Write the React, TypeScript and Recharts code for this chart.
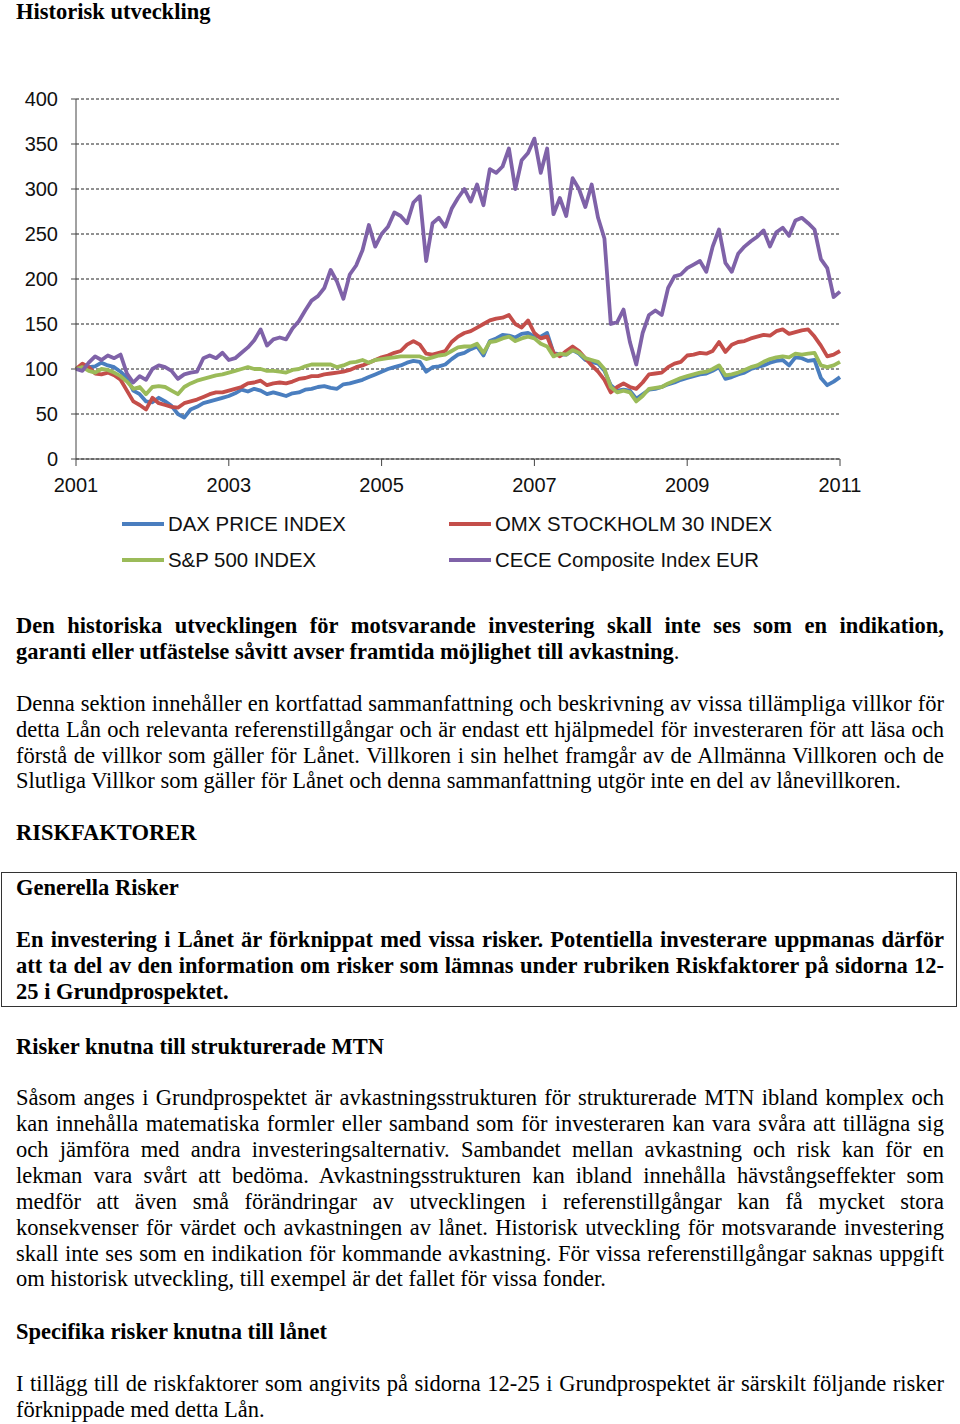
import React from "react";
import { LineChart, Line, XAxis, YAxis, CartesianGrid } from "recharts";

// monthly closes, indexed to 100 at Jan 2001
const DAX = [
  100, 102, 102, 103, 107, 104, 102, 97, 90, 76, 72, 64,
  63, 68, 64, 59, 50, 46, 55, 58, 62, 64, 66, 68,
  70, 73, 77, 75, 78, 76, 72, 74, 72, 70, 73, 74,
  77, 78, 80, 81, 79, 78, 83, 84, 86, 88, 91, 94,
  97, 100, 102, 104, 107, 109, 108, 97, 102, 103, 105, 111,
  116, 118, 122, 125, 115, 131, 134, 138, 137, 135, 139, 140,
  136, 136, 140, 118, 116, 116, 121, 117, 110, 108, 106, 98,
  82, 76, 77, 76, 67, 72, 77, 78, 80, 83, 85, 88,
  90, 92, 94, 95, 98, 102, 89, 91, 94, 96, 100, 102,
  104, 107, 109, 110, 104, 113, 112, 109, 110, 90, 82, 86,
  91,
];
const OMX = [
  100, 106, 102, 95, 94, 96, 93, 88, 76, 64, 60, 55,
  68, 62, 60, 58, 57, 62, 64, 66, 69, 72, 74, 74,
  76, 78, 80, 84, 85, 87, 82, 84, 85, 84, 86, 89,
  90, 92, 92, 94, 95, 96, 97, 99, 102, 104, 107, 110,
  113, 115, 118, 120, 127, 131, 127, 117, 116, 118, 120, 130,
  136, 140, 142, 146, 150, 154, 156, 157, 160, 150, 146, 154,
  140, 134, 136, 118, 114, 120, 125, 120, 112, 104, 97, 88,
  74, 80, 84, 80, 78, 85, 94, 95, 96, 102, 106, 108,
  115, 116, 118, 117, 120, 130, 119, 127, 130, 131, 134, 136,
  138, 137, 142, 144, 139, 141, 143, 144, 136, 126, 114, 116,
  120,
];
const SP500 = [
  100, 102, 98, 96, 100, 99, 96, 92, 86, 78, 80, 72,
  80, 81, 80, 76, 72, 80, 84, 87, 89, 91, 93, 94,
  96, 98, 100, 102, 100, 100, 98, 98, 97, 96, 99, 100,
  103, 105, 105, 105, 105, 102, 104, 107, 108, 110, 107, 110,
  111, 112, 113, 114, 114, 114, 114, 111, 113, 115, 116, 120,
  124, 125, 125, 128, 118, 130, 131, 134, 136, 131, 134, 136,
  134, 128, 125, 114, 117, 116, 121, 118, 112, 110, 108, 100,
  80, 74, 76, 74, 64, 70, 78, 79, 80, 84, 87, 90,
  92, 94, 96, 97, 100, 104, 93, 94, 96, 99, 102, 104,
  108, 111, 113, 114, 113, 117, 116, 117, 118, 104, 102, 104,
  108,
];
const CECE = [
  100, 98, 107, 114, 110, 115, 112, 116, 95, 85, 92, 88,
  100, 104, 102, 98, 89, 94, 96, 97, 112, 115, 112, 118,
  110, 112, 118, 124, 132, 144, 126, 133, 135, 133, 145, 153,
  165, 176, 181, 190, 210, 197, 178, 205, 215, 232, 260, 236,
  250, 258, 274, 270, 262, 285, 292, 220, 262, 268, 258, 278,
  290, 300, 286, 305, 282, 322, 318, 325, 345, 300, 332, 340,
  356, 318, 345, 272, 290, 270, 312, 300, 280, 305, 268, 245,
  150, 152, 166, 130, 105, 140, 160, 165, 160, 190, 203, 205,
  212, 216, 220, 208, 236, 255, 218, 208, 228, 236, 242, 247,
  254, 236, 252, 257, 248, 265, 268, 262, 255, 222, 212, 180,
  186,
];

const YEAR_TICKS = [0, 24, 48, 72, 96, 120];
const VALUE_TICKS = [0, 50, 100, 150, 200, 250, 300, 350, 400];

const SERIES = [
  { key: "dax", name: "DAX PRICE INDEX", color: "#4a7ebf" },
  { key: "omx", name: "OMX STOCKHOLM 30 INDEX", color: "#c44e4a" },
  { key: "sp", name: "S&P 500 INDEX", color: "#9bbb59" },
  { key: "cece", name: "CECE Composite Index EUR", color: "#7f62a8" },
];

const data = DAX.map((v, i) => ({ t: i, dax: v, omx: OMX[i], sp: SP500[i], cece: CECE[i] }));

const serif = "'Times New Roman', 'Liberation Serif', serif";
const sans = "Arial, 'Liberation Sans', sans-serif";
const FS = 22.5;

function TextLine({ y, children, justify = false, bold = false }: { y: number; children: React.ReactNode; justify?: boolean; bold?: boolean }) {
  return (
    <div
      style={{
        position: "absolute",
        left: 16,
        top: y - 13,
        width: 928,
        height: 26,
        lineHeight: "26px",
        fontSize: FS,
        fontFamily: serif,
        fontWeight: bold ? 700 : 400,
        color: "#000",
        textAlign: justify ? "justify" : "left",
        textAlignLast: justify ? "justify" : "left",
        whiteSpace: "nowrap",
      }}
    >
      {children}
    </div>
  );
}

function LegendItem({ x, y, name, color }: { x: number; y: number; name: string; color: string }) {
  return (
    <div style={{ position: "absolute", left: x, top: y - 12, height: 24, display: "flex", alignItems: "center" }}>
      <div style={{ width: 42, height: 4, background: color, marginRight: 4 }} />
      <span style={{ fontFamily: sans, fontSize: 20.4, color: "#111", lineHeight: "24px" }}>{name}</span>
    </div>
  );
}

export default function App() {
  return (
    <div style={{ position: "absolute", left: 0, top: 0, width: 960, height: 1424, background: "#fff" }}>
      <div style={{ position: "absolute", left: 16, top: -1, fontFamily: serif, fontWeight: 700, fontSize: FS, lineHeight: "26px" }}>
        Historisk utveckling
      </div>

      <div style={{ position: "absolute", left: 0, top: 0 }}>
        <LineChart width={960} height={600} data={data} margin={{ top: 99, right: 120, bottom: 111, left: 0 }}>
          <CartesianGrid vertical={false} stroke="#222" strokeDasharray="3 2" />
          <XAxis
            dataKey="t"
            type="number"
            domain={[0, 120]}
            ticks={YEAR_TICKS}
            tickFormatter={(t: number) => String(2001 + t / 12)}
            height={30}
            tickSize={7}
            tickMargin={12}
            axisLine={{ stroke: "#444" }}
            tickLine={{ stroke: "#444" }}
            tick={{ fill: "#111", fontSize: 20, fontFamily: sans }}
          />
          <YAxis
            type="number"
            domain={[0, 400]}
            ticks={VALUE_TICKS}
            width={76}
            tickSize={5}
            tickMargin={13}
            axisLine={{ stroke: "#444" }}
            tickLine={{ stroke: "#444" }}
            tick={{ fill: "#111", fontSize: 20, fontFamily: sans }}
          />
          {SERIES.map((s) => (
            <Line
              key={s.key}
              dataKey={s.key}
              name={s.name}
              stroke={s.color}
              strokeWidth={3.8}
              dot={false}
              isAnimationActive={false}
              strokeLinejoin="round"
            />
          ))}
        </LineChart>
      </div>

      <LegendItem x={122} y={524} name={SERIES[0].name} color={SERIES[0].color} />
      <LegendItem x={449} y={524} name={SERIES[1].name} color={SERIES[1].color} />
      <LegendItem x={122} y={560} name={SERIES[2].name} color={SERIES[2].color} />
      <LegendItem x={449} y={560} name={SERIES[3].name} color={SERIES[3].color} />

      <TextLine y={626} bold justify>Den historiska utvecklingen för motsvarande investering skall inte ses som en indikation,</TextLine>
      <TextLine y={652}><b>garanti eller utfästelse såvitt avser framtida möjlighet till avkastning</b>.</TextLine>

      <TextLine y={704} justify>Denna sektion innehåller en kortfattad sammanfattning och beskrivning av vissa tillämpliga villkor för</TextLine>
      <TextLine y={730} justify>detta Lån och relevanta referenstillgångar och är endast ett hjälpmedel för investeraren för att läsa och</TextLine>
      <TextLine y={756} justify>förstå de villkor som gäller för Lånet. Villkoren i sin helhet framgår av de Allmänna Villkoren och de</TextLine>
      <TextLine y={781}>Slutliga Villkor som gäller för Lånet och denna sammanfattning utgör inte en del av lånevillkoren.</TextLine>

      <TextLine y={833} bold>RISKFAKTORER</TextLine>

      <div style={{ position: "absolute", left: 1, top: 872, width: 954, height: 133, border: "1px solid #333" }} />
      <TextLine y={888} bold>Generella Risker</TextLine>
      <TextLine y={940} bold justify>En investering i Lånet är förknippat med vissa risker. Potentiella investerare uppmanas därför</TextLine>
      <TextLine y={966} bold justify>att ta del av den information om risker som lämnas under rubriken Riskfaktorer på sidorna 12-</TextLine>
      <TextLine y={992} bold>25 i Grundprospektet.</TextLine>

      <TextLine y={1047} bold>Risker knutna till strukturerade MTN</TextLine>
      <TextLine y={1098} justify>Såsom anges i Grundprospektet är avkastningsstrukturen för strukturerade MTN ibland komplex och</TextLine>
      <TextLine y={1124} justify>kan innehålla matematiska formler eller samband som för investeraren kan vara svåra att tillägna sig</TextLine>
      <TextLine y={1150} justify>och jämföra med andra investeringsalternativ. Sambandet mellan avkastning och risk kan för en</TextLine>
      <TextLine y={1176} justify>lekman vara svårt att bedöma. Avkastningsstrukturen kan ibland innehålla hävstångseffekter som</TextLine>
      <TextLine y={1202} justify>medför att även små förändringar av utvecklingen i referenstillgångar kan få mycket stora</TextLine>
      <TextLine y={1228} justify>konsekvenser för värdet och avkastningen av lånet. Historisk utveckling för motsvarande investering</TextLine>
      <TextLine y={1254} justify>skall inte ses som en indikation för kommande avkastning. För vissa referenstillgångar saknas uppgift</TextLine>
      <TextLine y={1279}>om historisk utveckling, till exempel är det fallet för vissa fonder.</TextLine>

      <TextLine y={1332} bold>Specifika risker knutna till lånet</TextLine>
      <TextLine y={1384} justify>I tillägg till de riskfaktorer som angivits på sidorna 12-25 i Grundprospektet är särskilt följande risker</TextLine>
      <TextLine y={1410}>förknippade med detta Lån.</TextLine>
    </div>
  );
}
